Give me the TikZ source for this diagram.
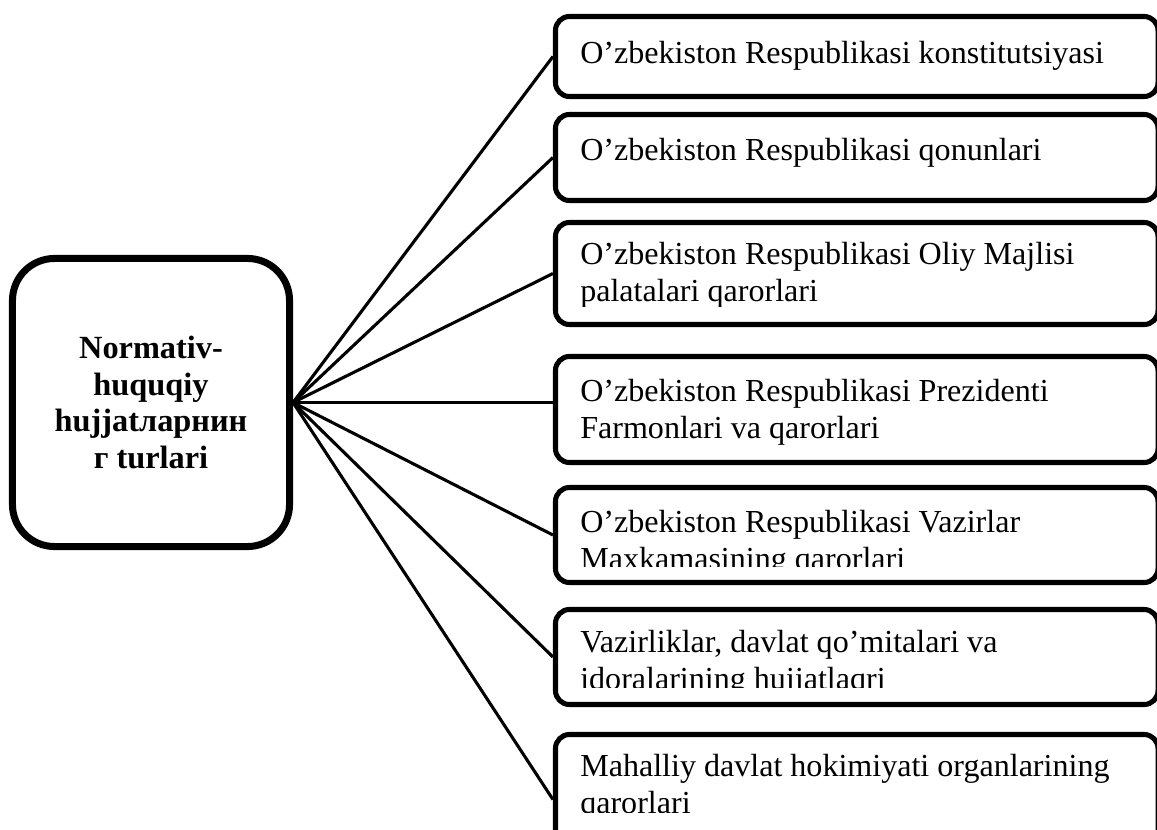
\documentclass[tikz,border=0pt]{standalone}
\usepackage{fontspec}
\setmainfont{Liberation Serif}
\usetikzlibrary{positioning}

\tikzset{
  core/.style={draw, line width=5pt, rounded corners=1.05cm,
    minimum width=6.925cm, minimum height=7.2cm, align=center,
    font=\fontsize{23}{26}\selectfont\bfseries},
  typebox/.style={draw, line width=3.6pt, rounded corners=0.35cm,
    minimum width=15.06cm},
  typetext/.style={anchor=base west, align=left, inner sep=0pt,
    font=\fontsize{22.8}{26}\selectfont},
  link/.style={line width=2.2pt}
}

\begin{document}
\begin{tikzpicture}[x=0.025cm, y=-0.025cm]
  \useasboundingbox (0,0) rectangle (1157,829);
  \clip (0,0) rectangle (1157,829);

  % Central node
  \node[core] (types) at (151,402.5) {Normativ-\\huquqiy\\hujjatларнин\\г turlari};

  % Boxes
  \node[typebox, minimum height=2cm]    (konst)  at (856.75,56.5) {};
  \node[typebox, minimum height=2.15cm] (qonun)  at (856.75,157.5) {};
  \node[typebox, minimum height=2.55cm] (majlis) at (856.75,273.5) {};
  \node[typebox, minimum height=2.65cm] (prez)   at (856.75,409.5) {};
  \node[typebox, minimum height=2.375cm] (vazir) at (856.75,535) {};
  \node[typebox, minimum height=2.375cm] (idora) at (856.75,657) {};
  \node[typebox, minimum height=3.25cm] (hokim)  at (856.75,799.5) {};

  % Texts (base = last line)
  \node[typetext] (konsttext) at (580,63) {O’zbekiston Respublikasi konstitutsiyasi};
  \node[typetext] (qonuntext) at (580,160) {O’zbekiston Respublikasi qonunlari};
  \begin{scope}
    \clip (560,225) rectangle (1150,306);
    \node[typetext] (majlistext) at (580,301.5) {O’zbekiston Respublikasi Oliy Majlisi\\palatalari qarorlari};
  \end{scope}
  \node[typetext] (preztext) at (580,438.5) {O’zbekiston Respublikasi Prezidenti\\Farmonlari va qarorlari};
  \begin{scope}
    \clip (560,490) rectangle (1150,566);
    \node[typetext] (vazirtext) at (580,569.5) {O’zbekiston Respublikasi Vazirlar\\Maxkamasining qarorlari};
  \end{scope}
  \begin{scope}
    \clip (560,612) rectangle (1150,687);
    \node[typetext] (idoratext) at (580,689.5) {Vazirliklar, davlat qo’mitalari va\\idoralarining hujjatlaqri};
  \end{scope}
  \begin{scope}
    \clip (560,737) rectangle (1150,812);
    \node[typetext] (hokimtext) at (580,813.5) {Mahalliy davlat hokimiyati organlarining\\qarorlari};
  \end{scope}

  % Links
  \draw[link] (types.east) -- (konst.west);
  \draw[link] (types.east) -- (qonun.west);
  \draw[link] (types.east) -- (majlis.west);
  \draw[link] (types.east) -- (types.east -| prez.west);
  \draw[link] (types.east) -- (vazir.west);
  \draw[link] (types.east) -- (idora.west);
  \draw[link] (types.east) -- (hokim.west);
\end{tikzpicture}
\end{document}
